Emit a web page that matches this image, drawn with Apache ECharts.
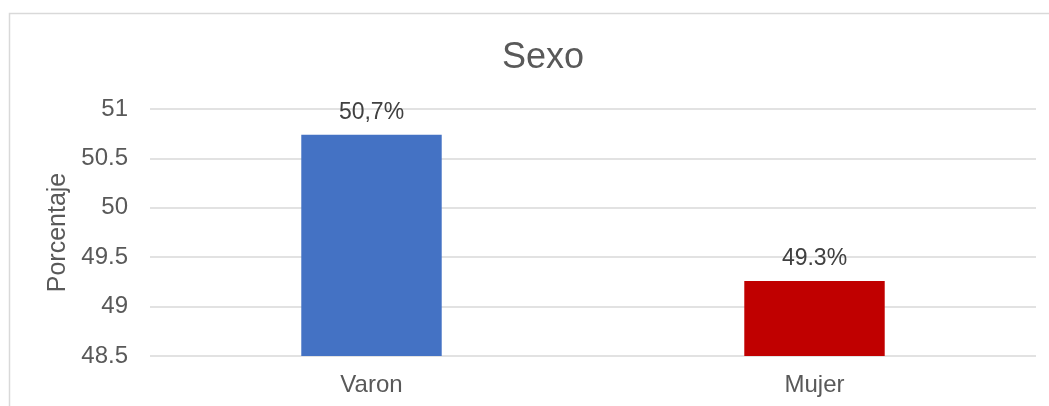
<!DOCTYPE html>
<html>
<head>
<meta charset="utf-8">
<script src="https://cdn.jsdelivr.net/npm/echarts@6/dist/echarts.min.js"></script>
<style>
  html, body { margin: 0; padding: 0; background: #fff; }
  #chart { width: 1049px; height: 406px; }
</style>
</head>
<body>
<div id="chart"></div>
<script>
// datos del gráfico
const categories = ["Varon", "Mujer"];
const values = [50.74, 49.26];
const valueLabels = ["50,7%", "49.3%"];
const barColors = ["#4472C4", "#C00000"];

const myChart = echarts.init(document.getElementById("chart"));

const option = {
  animation: false,
  backgroundColor: "#fff",
  graphic: [
    {
      type: "rect",
      shape: { x: 9.5, y: 13.5, width: 1060, height: 420 },
      style: { fill: "none", stroke: "#d9d9d9", lineWidth: 1.5 },
      silent: true,
    },
  ],
  title: {
    text: "Sexo",
    left: 497,
    top: 35,
    textStyle: {
      fontFamily: "Arial, Liberation Sans",
      fontSize: 36,
      fontWeight: "normal",
      color: "#595959",
    },
  },
  grid: { left: 150, right: 13, top: 109, bottom: 50 },
  xAxis: {
    type: "category",
    data: categories,
    axisLine: { show: false },
    axisTick: { show: false },
    axisLabel: {
      color: "#595959",
      fontSize: 24,
      fontFamily: "Arial, Liberation Sans",
      margin: 17,
    },
  },
  yAxis: {
    type: "value",
    min: 48.5,
    max: 51,
    interval: 0.5,
    name: "Porcentaje",
    nameLocation: "middle",
    nameGap: 78,
    nameTextStyle: {
      color: "#595959",
      fontSize: 25,
      fontFamily: "Arial, Liberation Sans",
    },
    axisLine: { show: false },
    axisTick: { show: false },
    axisLabel: {
      color: "#595959",
      fontSize: 24,
      fontFamily: "Arial, Liberation Sans",
      margin: 22,
    },
    splitLine: { lineStyle: { color: "#d9d9d9", width: 1.5 } },
  },
  series: [
    {
      type: "bar",
      barWidth: "31.7%",
      data: values.map((v, i) => ({
        value: v,
        itemStyle: { color: barColors[i] },
      })),
      label: {
        show: true,
        position: "top",
        distance: 11,
        color: "#404040",
        fontSize: 23,
        fontFamily: "Arial, Liberation Sans",
        formatter: (p) => valueLabels[p.dataIndex],
      },
    },
  ],
};

myChart.setOption(option);
</script>
</body>
</html>
